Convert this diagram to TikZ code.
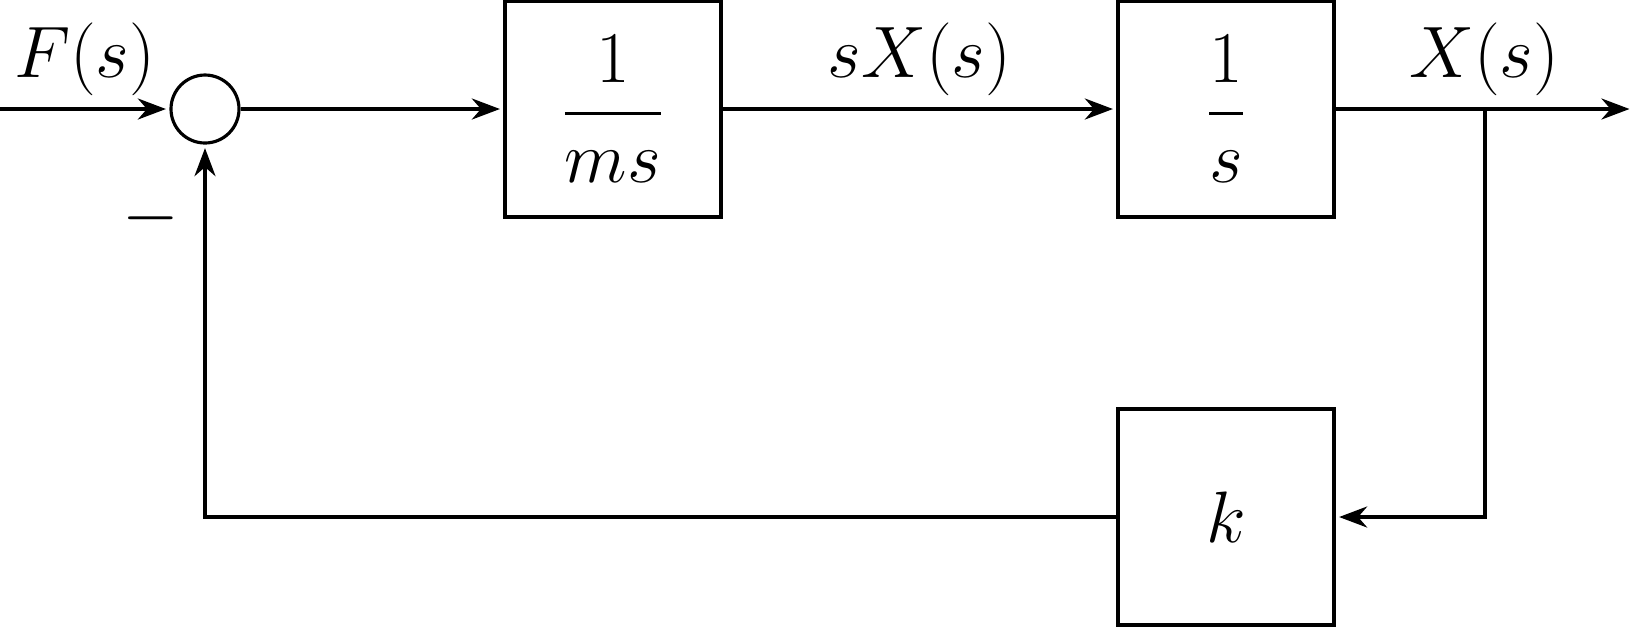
\documentclass[tikz,border=0pt]{standalone}
\usepackage{amsmath}
\usepackage{amsfonts}
\usepackage{amssymb}
\usetikzlibrary{arrows.meta,positioning}

\begin{document}
\begin{tikzpicture}[->,>={Stealth[length=8pt,width=6pt]},shorten >=1pt,auto,
                    node distance=4.08cm,line width=0.9pt,font=\huge]
  \tikzstyle{block}=[draw,minimum width=2.16cm,minimum height=2.16cm]
  \tikzstyle{sum}=[draw,circle,minimum size=0.68cm,inner sep=0pt]

  \useasboundingbox (0,0) rectangle (16.34,-6.28);

     \node[sum] (sum) at (2.05,-1.09) {};

  \node[block] (mass)   [right of=sum]     {$\dfrac{1}{ms}$};

   \node[block] (integ) [right of=mass, node distance=6.13cm]	{$\dfrac{1}{s}$};

    \node[block] (spring) [below of=integ]	{$k$};

  \coordinate (in) at (0,-1.09);
  \coordinate[right of=integ, node distance=4.07cm] (out);
  \coordinate[right of=integ, node distance=2.59cm] (branch);

  \node (minus) at ([xshift=-0.54cm,yshift=-1.09cm]sum.center) {$-$};

  \path
  	  (in) edge 	node {$F(s)$}	(sum)

 	  (sum) edge 	(mass)

  	  (mass) edge 	node {$sX(s)$}	(integ)

  	  (integ) edge 	node {$X(s)$}	(out)
		;

  \draw (branch) |- (spring);
  \draw (spring) -| (sum);

\end{tikzpicture}
\end{document}
